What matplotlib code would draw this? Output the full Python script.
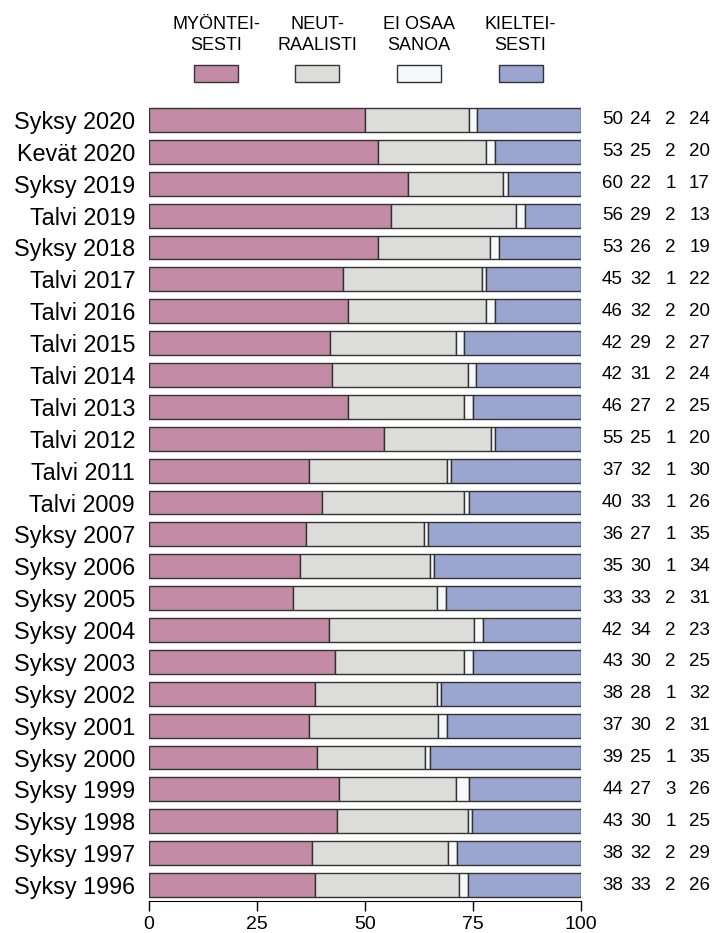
import numpy as np
import matplotlib.pyplot as plt
import matplotlib.transforms as mtransforms
from matplotlib.patches import Rectangle

plt.rcParams['font.family'] = ['Liberation Sans', 'DejaVu Sans']

# data
periods = ['Syksy 2020', 'Kevät 2020', 'Syksy 2019', 'Talvi 2019', 'Syksy 2018',
           'Talvi 2017', 'Talvi 2016', 'Talvi 2015', 'Talvi 2014', 'Talvi 2013',
           'Talvi 2012', 'Talvi 2011', 'Talvi 2009', 'Syksy 2007', 'Syksy 2006',
           'Syksy 2005', 'Syksy 2004', 'Syksy 2003', 'Syksy 2002', 'Syksy 2001',
           'Syksy 2000', 'Syksy 1999', 'Syksy 1998', 'Syksy 1997', 'Syksy 1996']
myonteisesti = [50, 53, 60, 56, 53, 45, 46, 42, 42, 46, 55, 37, 40, 36, 35,
                33, 42, 43, 38, 37, 39, 44, 43, 38, 38]
neutraalisti = [24, 25, 22, 29, 26, 32, 32, 29, 31, 27, 25, 32, 33, 27, 30,
                33, 34, 30, 28, 30, 25, 27, 30, 32, 33]
ei_osaa = [2, 2, 1, 2, 2, 1, 2, 2, 2, 2, 1, 1, 1, 1, 1,
           2, 2, 2, 1, 2, 1, 3, 1, 2, 2]
kielteisesti = [24, 20, 17, 13, 19, 22, 20, 27, 24, 25, 20, 30, 26, 35, 34,
                31, 23, 25, 32, 31, 35, 26, 25, 29, 26]

series_names = ['MYÖNTEI-\nSESTI', 'NEUT-\nRAALISTI', 'EI OSAA\nSANOA', 'KIELTEI-\nSESTI']
colors = ['#c38ba5', '#dcdcda', '#f7f8fa', '#9aa5d0']

vals = np.array([myonteisesti, neutraalisti, ei_osaa, kielteisesti], dtype=float)
# bars are drawn as shares of the row total
shares = vals / vals.sum(axis=0) * 100

fig = plt.figure(figsize=(7.16, 9.33), dpi=100)
ax = fig.add_axes([0.208, 0.0343, 0.6035, 0.8542])

y = np.arange(len(periods))
left = np.zeros(len(periods))
for k in range(4):
    ax.barh(y, shares[k], left=left, height=0.75, color=colors[k],
            edgecolor='#333333', linewidth=1)
    left += shares[k]

ax.set_ylim(len(periods) - 0.5, -0.5)
ax.set_xlim(0, 100)
ax.set_yticks(y)
ax.set_yticklabels(periods, fontsize=16.8)
ax.tick_params(axis='y', length=0, pad=10)
ax.set_xticks([0, 25, 50, 75, 100])
ax.tick_params(axis='x', labelsize=14, length=7, width=1, pad=4)
for s in ['top', 'right', 'left']:
    ax.spines[s].set_visible(False)

# numbers on the right
trans = mtransforms.blended_transform_factory(fig.transFigure, ax.transData)
col_x = [623 / 716, 651 / 716, 676 / 716, 710 / 716]
for i in range(len(periods)):
    for k in range(4):
        ax.text(col_x[k], i, str(int(vals[k, i])), transform=trans,
                ha='right', va='center', fontsize=13.5)

# legend
leg_cx = [216 / 716, 317 / 716, 419 / 716, 520.5 / 716]
for k in range(4):
    fig.text(leg_cx[k], 1 - 35 / 933, series_names[k], ha='center', va='center',
             fontsize=13, linespacing=1.3)
    fig.patches.append(Rectangle((leg_cx[k] - 22 / 716, 1 - 81.5 / 933), 44 / 716, 16 / 933,
                                 transform=fig.transFigure, facecolor=colors[k],
                                 edgecolor='#333333', linewidth=1))

fig.savefig('out.png', dpi=100)
